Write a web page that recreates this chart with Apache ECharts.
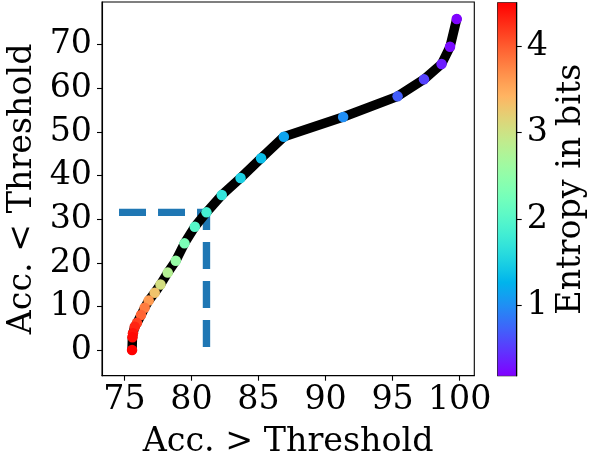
<!DOCTYPE html>
<html><head><meta charset="utf-8">
<script src="https://cdn.jsdelivr.net/npm/echarts@6/dist/echarts.min.js"></script>
<style>html,body{margin:0;padding:0;background:#fff}#c{width:598px;height:453px}</style>
</head><body><div id="c"></div>
<script>
// Data
const accAbove = [99.78, 99.28, 98.65, 97.34, 95.37, 91.31, 86.89, 85.19, 83.66, 82.26, 81.12, 80.25, 79.48, 78.83, 78.23, 77.69, 77.26, 76.81, 76.51, 76.24, 75.94, 75.77, 75.64, 75.60, 75.57];
const accBelow = [75.87, 69.5, 65.56, 62.05, 58.16, 53.42, 48.9, 44.0, 39.46, 35.56, 31.6, 28.3, 24.5, 20.5, 17.8, 15.1, 13.2, 11.4, 9.76, 8.08, 6.3, 5.4, 3.9, 3.0, 0.07];
const entropy = [0.2, 0.25, 0.35, 0.55, 0.7, 1.0, 1.15, 1.35, 1.5, 1.7, 1.85, 2.0, 2.3, 2.55, 2.8, 3.05, 3.3, 3.6, 3.8, 3.95, 4.15, 4.3, 4.4, 4.45, 4.5];
const dashX = [74.6, 81.12, 81.12];
const dashY = [31.6, 31.6, -1.9];
const xTicks = [75, 80, 85, 90, 95, 100];
const yTicks = [0, 10, 20, 30, 40, 50, 60, 70];
const cbTicks = [1, 2, 3, 4];
const cbRange = [0.19, 4.5];

const FONT = 'DejaVu Serif';
const FS = 33.3;
function rainbow(t) {
  const r = Math.min(1, Math.abs(2 * t - 0.5));
  const g = Math.sin(Math.PI * t);
  const b = Math.max(0, Math.cos(Math.PI * t / 2));
  const h = v => Math.round(v * 255);
  return 'rgb(' + h(r) + ',' + h(g) + ',' + h(b) + ')';
}
const N = 32;
const cmapColors = [];
const cmapStops = [];
for (let i = 0; i <= N; i++) {
  cmapColors.push(rainbow(i / N));
  cmapStops.push({offset: i / N, color: rainbow(i / N)});
}

const chart = echarts.init(document.getElementById('c'), null, {renderer: 'canvas'});
const lineData = accAbove.map((x, i) => [x, accBelow[i]]);
const ptData = accAbove.map((x, i) => [x, accBelow[i], entropy[i]]);
const dashData = dashX.map((x, i) => [x, dashY[i]]);
const txt = {fontFamily: FONT, fontSize: FS, color: '#000'};

chart.setOption({
  animation: false,
  backgroundColor: '#fff',
  grid: [
    {left: 102, right: 123.7, top: 2, bottom: 77.3, show: true, borderColor: '#000', borderWidth: 1.1, backgroundColor: 'transparent', containLabel: false, outerBoundsMode: 'none'},
    {left: 497.7, width: 19, top: 2.7, height: 373, show: true, borderColor: '#000', borderWidth: 1.1, backgroundColor: 'transparent', containLabel: false, outerBoundsMode: 'none'}
  ],
  xAxis: [
    {
      type: 'value', gridIndex: 0, min: 73.33, max: 101.09,
      splitLine: {show: false},
      axisLine: {show: true, onZero: false, lineStyle: {color: '#000', width: 1.1}},
      axisTick: {show: true, customValues: xTicks, length: 5, lineStyle: {color: '#000', width: 1.1}},
      axisLabel: Object.assign({customValues: xTicks, margin: 8}, txt),
      name: 'Acc. > Threshold', nameLocation: 'middle', nameGap: 50,
      nameTextStyle: txt
    },
    {type: 'value', gridIndex: 1, min: 0, max: 1, show: false}
  ],
  yAxis: [
    {
      type: 'value', gridIndex: 0, min: -5.8, max: 79.76,
      splitLine: {show: false},
      axisLine: {show: true, onZero: false, lineStyle: {color: '#000', width: 1.1}},
      axisTick: {show: true, customValues: yTicks, length: 5, lineStyle: {color: '#000', width: 1.1}},
      axisLabel: Object.assign({customValues: yTicks, margin: 10}, txt),
      name: 'Acc. < Threshold', nameLocation: 'middle', nameGap: 56, nameRotate: 90,
      nameTextStyle: txt
    },
    {
      type: 'value', gridIndex: 1, min: cbRange[0], max: cbRange[1], position: 'right',
      splitLine: {show: false},
      axisLine: {show: true, onZero: false, lineStyle: {color: '#000', width: 1.1}},
      axisTick: {show: true, customValues: cbTicks, length: 5, lineStyle: {color: '#000', width: 1.1}},
      axisLabel: Object.assign({customValues: cbTicks, margin: 10}, txt),
      name: 'Entropy in bits', nameLocation: 'middle', nameGap: 38, nameRotate: 90,
      nameTextStyle: txt
    }
  ],
  visualMap: {
    show: false, type: 'continuous', min: cbRange[0], max: cbRange[1],
    dimension: 2, seriesIndex: 2, inRange: {color: cmapColors}
  },
  series: [
    {
      type: 'line', xAxisIndex: 0, yAxisIndex: 0, data: dashData, symbol: 'none',
      lineStyle: {color: '#1f77b4', width: 7.4, type: [27, 12], cap: 'butt', join: 'miter'},
      z: 1
    },
    {
      type: 'line', xAxisIndex: 0, yAxisIndex: 0, data: lineData, symbol: 'none',
      lineStyle: {color: '#000', width: 9.5, cap: 'round', join: 'round'},
      z: 2
    },
    {
      type: 'scatter', xAxisIndex: 0, yAxisIndex: 0, data: ptData, symbol: 'circle', symbolSize: 10.5,
      itemStyle: {opacity: 1}, z: 3
    },
    {
      type: 'custom', xAxisIndex: 1, yAxisIndex: 1, data: [[0, cbRange[0], cbRange[1]]],
      renderItem: function (params, api) {
        const p0 = api.coord([0, api.value(1)]);
        const p1 = api.coord([1, api.value(2)]);
        return {
          type: 'rect',
          shape: {x: p0[0], y: p1[1], width: p1[0] - p0[0], height: p0[1] - p1[1]},
          style: {fill: new echarts.graphic.LinearGradient(0, 1, 0, 0, cmapStops)}
        };
      },
      z: 0
    }
  ]
});
</script></body></html>
